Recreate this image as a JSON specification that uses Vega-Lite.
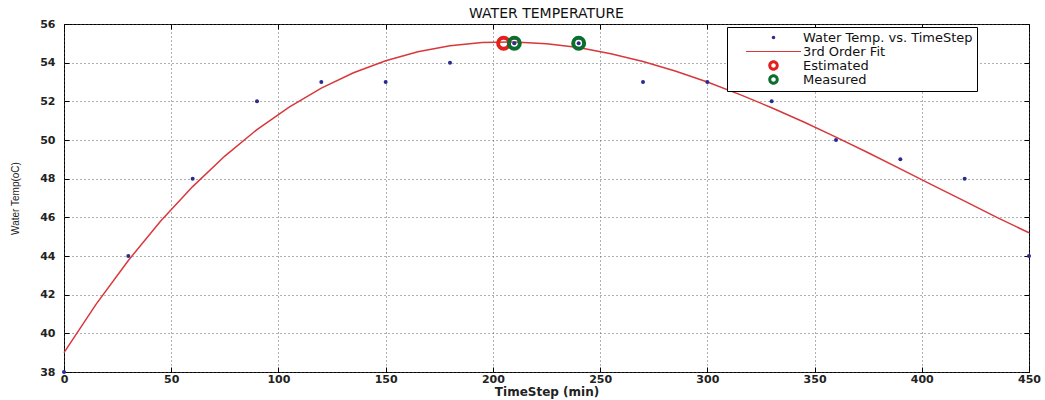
{
  "$schema": "https://vega.github.io/schema/vega-lite/v6.json",
  "width": 965,
  "height": 348,
  "autosize": {"type": "none"},
  "padding": {"left": 64, "top": 24, "right": 16, "bottom": 28},
  "background": "white",
  "title": {"text": "WATER TEMPERATURE", "font": "DejaVu Sans", "fontSize": 14, "fontWeight": "normal", "color": "#111", "offset": -3},
  "datasets": {
    "obs": [
      {"t": 0, "temp": 38}, {"t": 30, "temp": 44}, {"t": 60, "temp": 48}, {"t": 90, "temp": 52},
      {"t": 120, "temp": 53}, {"t": 150, "temp": 53}, {"t": 180, "temp": 54}, {"t": 210, "temp": 55},
      {"t": 240, "temp": 55}, {"t": 270, "temp": 53}, {"t": 300, "temp": 53}, {"t": 330, "temp": 52},
      {"t": 360, "temp": 50}, {"t": 390, "temp": 49}, {"t": 420, "temp": 48}, {"t": 450, "temp": 44}
    ],
    "fit": [
      {"t": 0, "temp": 39.0}, {"t": 15, "temp": 41.51}, {"t": 30, "temp": 43.77}, {"t": 45, "temp": 45.8},
      {"t": 60, "temp": 47.59}, {"t": 75, "temp": 49.17}, {"t": 90, "temp": 50.54}, {"t": 105, "temp": 51.7},
      {"t": 120, "temp": 52.68}, {"t": 135, "temp": 53.48}, {"t": 150, "temp": 54.1}, {"t": 165, "temp": 54.56},
      {"t": 180, "temp": 54.87}, {"t": 195, "temp": 55.04}, {"t": 210, "temp": 55.07}, {"t": 225, "temp": 54.98},
      {"t": 240, "temp": 54.78}, {"t": 255, "temp": 54.46}, {"t": 270, "temp": 54.06}, {"t": 285, "temp": 53.57},
      {"t": 300, "temp": 53.0}, {"t": 315, "temp": 52.36}, {"t": 330, "temp": 51.67}, {"t": 345, "temp": 50.93},
      {"t": 360, "temp": 50.15}, {"t": 375, "temp": 49.34}, {"t": 390, "temp": 48.51}, {"t": 405, "temp": 47.67},
      {"t": 420, "temp": 46.84}, {"t": 435, "temp": 46.0}, {"t": 450, "temp": 45.2}
    ],
    "est": [{"t": 205, "temp": 55}],
    "meas": [{"t": 210, "temp": 55}, {"t": 240, "temp": 55}]
  },
  "config": {
    "view": {"stroke": "#000", "strokeWidth": 1},
    "axis": {
      "labelFont": "DejaVu Sans", "labelFontSize": 11, "labelFontWeight": "bold", "labelColor": "#222",
      "labelOverlap": false, "labelFlush": false, "labelBound": false,
      "titleFont": "DejaVu Sans", "titleColor": "#222",
      "gridColor": "#555", "gridDash": [1, 3], "gridOpacity": 0.9, "gridWidth": 1,
      "domain": false, "tickColor": "#000", "tickSize": -5, "tickCount": 30
    }
  },
  "resolve": {"scale": {"x": "independent", "y": "independent"}, "axis": {"x": "independent", "y": "independent"}},
  "layer": [
    {
      "layer": [
        {
          "data": {"name": "fit"},
          "mark": {"type": "line", "strokeWidth": 1.5},
          "encoding": {
            "x": {"field": "t", "type": "quantitative", "scale": {"domain": [0, 450], "nice": false, "zero": false},
              "axis": {"values": [0, 50, 100, 150, 200, 250, 300, 350, 400, 450], "tickCount": 30, "format": "d", "grid": true, "title": "TimeStep (min)", "titleFontSize": 12, "titleFontWeight": "bold", "titlePadding": 2, "labelPadding": 6}},
            "y": {"field": "temp", "type": "quantitative", "scale": {"domain": [38, 56], "nice": false, "zero": false},
              "axis": {"values": [38, 40, 42, 44, 46, 48, 50, 52, 54, 56], "tickCount": 30, "format": "d", "grid": true, "title": "Water Temp(oC)", "titleFont": "Liberation Sans Narrow, Liberation Sans", "titleFontSize": 10, "titleFontWeight": "normal", "titlePadding": 19, "labelPadding": 14}},
            "color": {"datum": "3rd Order Fit", "type": "nominal",
              "scale": {"domain": ["Water Temp. vs. TimeStep", "3rd Order Fit", "Estimated", "Measured"], "range": ["#2b2b8f", "#d8383c", "#e3211c", "#0b6e2f"]},
              "legend": {
                "orient": "none", "legendX": 663, "legendY": 3, "title": null,
                "strokeColor": "#000", "fillColor": "#fff", "padding": 4,
                "symbolOffset": 36, "labelOffset": 23, "symbolSize": 100, "symbolStrokeWidth": 0,
                "labelFont": "DejaVu Sans", "labelFontSize": 13, "labelColor": "#111", "labelLimit": 400, "rowPadding": 0,
                "encode": {
                  "symbols": {
                    "update": {
                      "shape": {"signal": "datum.value === '3rd Order Fit' ? 'M-5.5,-0.12H5.5V0.12H-5.5Z' : datum.value === 'Water Temp. vs. TimeStep' ? 'M-0.35,0A0.35,0.35 0 1,0 0.35,0A0.35,0.35 0 1,0 -0.35,0Z' : 'M-1.05,0A1.05,1.05 0 1,0 1.05,0A1.05,1.05 0 1,0 -1.05,0ZM-0.45,0A0.45,0.45 0 1,1 0.45,0A0.45,0.45 0 1,1 -0.45,0Z'"},
                      "size": {"value": 100},
                      "fill": {"signal": "scale('color', datum.value)"},
                      "fillOpacity": {"value": 1},
                      "strokeWidth": {"value": 0},
                      "opacity": {"value": 1}
                    }
                  }
                }
              }
            }
          }
        },
        {
          "data": {"name": "est"},
          "mark": {"type": "point", "filled": false, "size": 120, "strokeWidth": 4, "opacity": 1},
          "encoding": {"x": {"field": "t", "type": "quantitative"}, "y": {"field": "temp", "type": "quantitative"}, "color": {"datum": "Estimated", "type": "nominal"}}
        },
        {
          "data": {"name": "meas"},
          "mark": {"type": "point", "filled": false, "size": 120, "strokeWidth": 4, "opacity": 1},
          "encoding": {"x": {"field": "t", "type": "quantitative"}, "y": {"field": "temp", "type": "quantitative"}, "color": {"datum": "Measured", "type": "nominal"}}
        },
        {
          "data": {"name": "obs"},
          "mark": {"type": "point", "filled": true, "size": 16, "opacity": 1},
          "encoding": {"x": {"field": "t", "type": "quantitative"}, "y": {"field": "temp", "type": "quantitative"}, "color": {"datum": "Water Temp. vs. TimeStep", "type": "nominal"}}
        }
      ]
    },
    {
      "data": {"name": "fit"},
      "mark": {"type": "line", "opacity": 0},
      "encoding": {
        "x": {"field": "t", "type": "quantitative", "scale": {"domain": [0, 450], "nice": false, "zero": false},
          "axis": {"orient": "top", "values": [0, 50, 100, 150, 200, 250, 300, 350, 400, 450], "tickCount": 30, "labels": false, "grid": false, "title": null}},
        "y": {"field": "temp", "type": "quantitative", "scale": {"domain": [38, 56], "nice": false, "zero": false},
          "axis": {"orient": "right", "values": [38, 40, 42, 44, 46, 48, 50, 52, 54, 56], "tickCount": 30, "labels": false, "grid": false, "title": null}}
      }
    }
  ]
}
